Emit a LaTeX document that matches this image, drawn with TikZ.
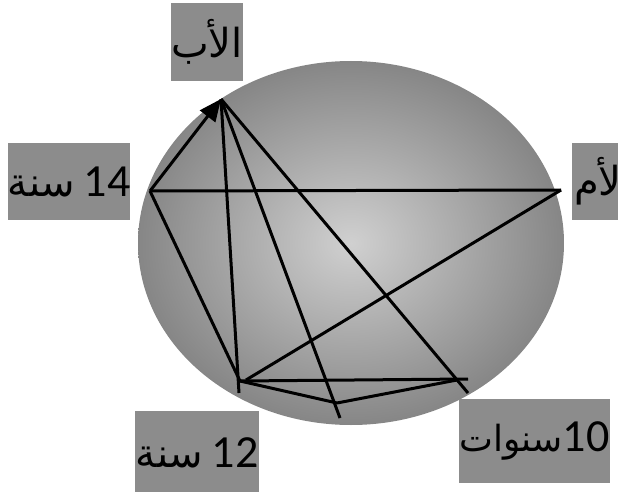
\documentclass[tikz,border=0pt]{standalone}
\usepackage{fontspec}
\setmainfont{Carlito}
\newfontfamily\arabicfont[Script=Arabic]{DejaVu Sans}
\newfontfamily\digitfont{Carlito}
\TeXXeTstate=1
\usetikzlibrary{arrows.meta}
\definecolor{boxgray}{RGB}{140,140,140}
\definecolor{ctrgray}{RGB}{208,208,208}
\definecolor{edgegray}{RGB}{134,134,134}
\tikzset{
  lbl/.style={fill=boxgray, inner sep=0pt, text=black},
  link/.style={line width=3pt, black}
}
\newcommand{\ar}[1]{{\arabicfont\fontsize{40}{44}\selectfont\beginR #1\endR}}
\newcommand{\arsm}[1]{{\arabicfont\fontsize{36}{44}\selectfont\beginR #1\endR}}
\newcommand{\dg}[1]{{\digitfont\fontsize{46}{50}\selectfont #1}}
\begin{document}
\begin{tikzpicture}[x=1pt,y=-1pt]
\useasboundingbox (0,0) rectangle (618,492);
\shade[inner color=ctrgray, outer color=edgegray] (351,243) ellipse [x radius=213, y radius=182];
% labels
\node[lbl, minimum width=68, minimum height=78] (fa) at (207,42) {\ar{الأب}};
\node[lbl, minimum width=116, minimum height=77] (s14) at (69,181.5) {\ar{سنة}\hspace{9pt}\dg{14}};
\node[lbl, minimum width=76, minimum height=77, text width=72, align=left] (mo) at (610,181.5) {\ar{الأم}};
\node[lbl, minimum width=124, minimum height=84] (s12) at (197,453) {\ar{سنة}\hspace{9pt}\dg{12}};
\node[lbl, minimum width=147, minimum height=84] (s10) at (534.5,441) {\arsm{سنوات}\dg{10}};
% points
\coordinate (F) at (221,99);
\coordinate (L) at (150,191);
\coordinate (M) at (561,190);
\coordinate (A) at (240,381);
\coordinate (A2) at (246,380);
\coordinate (B) at (337,403);
\coordinate (Fv) at (239,393);
\coordinate (Fb) at (340,418);
\coordinate (Fr) at (468,393);
\coordinate (Ah) at (468,379);
\coordinate (Bt) at (457,380);
% links
\draw[link, -{Triangle[length=22pt,width=19pt]}] (L) -- (F);
\draw[link] (L) -- (M);
\draw[link] (L) -- (A);
\draw[link] (F) -- (Fv);
\draw[link] (F) -- (Fb);
\draw[link] (F) -- (Fr);
\draw[link] (A2) -- (M);
\draw[link] (A) -- (Ah);
\draw[link] (A) -- (B);
\draw[link] (B) -- (Bt);
\end{tikzpicture}
\end{document}
